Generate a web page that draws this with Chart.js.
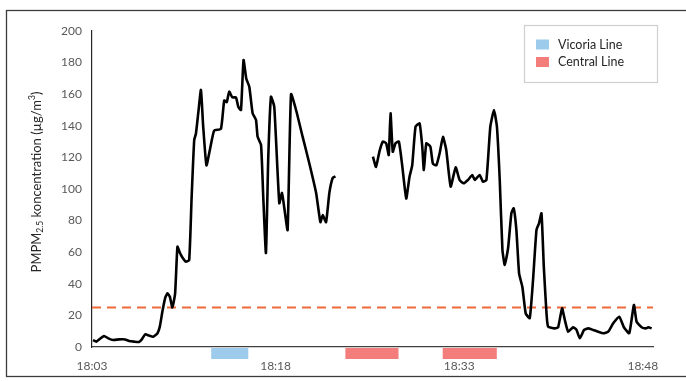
<!DOCTYPE html>
<html>
<head>
<meta charset="utf-8">
<script src="https://cdn.jsdelivr.net/npm/chart.js@4.4.1/dist/chart.umd.min.js"></script>
<style>
  html, body { margin: 0; padding: 0; background: #ffffff; }
  #wrap { width: 686px; height: 381px; }
</style>
</head>
<body>
<div id="wrap"><canvas id="c" width="686" height="381"></canvas></div>
<script>
// Minutes after 18:03 and PM2.5 readings (µg/m³); null marks the missing stretch.
const minutes = [
  0.08, 0.35, 0.71, 0.98, 1.33, 1.72, 2.21, 2.70, 3.03, 3.44, 3.85, 4.07, 4.34, 4.66, 4.99,
  5.34, 5.54, 5.75, 5.97, 6.16, 6.36, 6.57, 6.79, 6.98, 7.16, 7.36, 7.67, 7.94, 8.14, 8.35,
  8.49, 8.68, 8.90, 9.08, 9.35, 9.66, 9.98, 10.53, 10.80, 11.01, 11.21, 11.46, 11.76, 11.95,
  12.17, 12.38, 12.60, 12.85, 13.12, 13.40, 13.53, 13.81, 13.99, 14.21, 14.40, 14.62, 14.89,
  15.30, 15.52, 15.71, 15.98, 16.26, 16.67, 17.21, 17.76, 18.31, 18.66, 18.85, 19.12, 19.39,
  19.66, 19.89,
  21.40,
  22.95, 23.20, 23.49, 23.76, 24.03, 24.24, 24.39, 24.57, 24.80, 25.07, 25.34, 25.67, 25.94,
  26.16, 26.43, 26.76, 26.98, 27.11, 27.31, 27.64, 27.85, 28.13, 28.40, 28.67, 28.94, 29.30,
  29.71, 30.03, 30.36, 30.71, 31.07, 31.26, 31.67, 31.94, 32.22, 32.54, 32.84, 33.08, 33.31,
  33.53, 33.72, 33.99, 34.26, 34.45, 34.67, 34.89, 35.16, 35.43, 35.76, 36.03, 36.31, 36.52,
  36.72, 36.91, 37.13, 37.26, 37.81, 38.08, 38.40, 38.63, 38.90, 39.30, 39.58, 39.85, 40.20,
  40.53, 40.94, 41.35, 41.76, 42.17, 42.58, 43.07, 43.45, 43.89, 44.27, 44.49, 44.90, 45.25,
  45.44, 45.72
];
const pm25 = [
  4.4, 3.4, 5.5, 7.0, 5.5, 4.4, 4.8, 4.8, 3.8, 3.4, 3.2, 4.8, 8.0, 7.2, 6.5,
  8.6, 12.9, 22.4, 30.8, 34.0, 31.8, 25.0, 34.0, 63.5, 60, 57, 54, 55, 95, 131,
  135, 148, 162.7, 140, 115, 126, 137, 138, 156, 155, 161.6, 158, 158, 152,
  150, 181.6, 170, 164.7, 148, 143.7, 133, 127.8, 95, 59.5, 120, 158.4, 152,
  91, 97.5, 88, 74, 160, 150, 133, 116, 97.5, 79, 83.5, 79, 97.5,
  107, 108,
  null,
  120.5, 114, 124, 130, 129, 121.5, 147.9, 123.6, 129, 130, 115, 94, 107.8,
  115, 139.4, 141.5, 126.8, 112, 128.9, 126.8, 116, 115, 122.6, 133, 124.7, 101.5,
  113.7, 105.7, 103.6, 105.7, 108.9, 105.7, 108.9, 104.6, 105.7, 139.4, 150, 139.4, 105.7,
  61.4, 51.9, 62.5, 84.6, 87.8, 74, 46.6, 38, 21.3, 18.2, 42.4, 74, 78.3,
  84.6, 50.8, 21.3, 12.9, 11.8, 12.5, 24.5, 17, 9.7, 12.5, 10.8, 5.5, 10.8,
  11.8, 10.8, 9.7, 8.7, 9.7, 15, 19.2, 12.5, 8.7, 26.6, 16, 12.5, 11.8,
  12.5, 11.8
];

// Guideline level (µg/m³)
const guideline = 25;

// Underground legs, as [start, end] minutes after 18:03
const victoriaLine = [[9.74, 12.77]];
const centralLine = [[20.70, 25.04], [28.65, 33.07]];

// Axis ticks
const tickMinutes = [0, 15, 30, 45];
const tickLabels = ['18:03', '18:18', '18:33', '18:48'];
const yTicks = [0, 20, 40, 60, 80, 100, 120, 140, 160, 180, 200];
const xEnd = 45.83;

const legendLabels = ['Vicoria Line', 'Central Line'];

const BLUE = '#9dcbec';
const RED = '#f27d7a';
const BAR_LEVEL = -4.1;

function legPoints(intervals) {
  const pts = [];
  intervals.forEach((iv, i) => {
    if (i > 0) pts.push({ x: (intervals[i - 1][1] + iv[0]) / 2, y: null });
    pts.push({ x: iv[0], y: BAR_LEVEL }, { x: iv[1], y: BAR_LEVEL });
  });
  return pts;
}

const series = minutes.map((m, i) => ({ x: m, y: pm25[i] }));

const frame = {
  id: 'frame',
  beforeDraw(chart) {
    const ctx = chart.ctx;
    ctx.save();
    ctx.fillStyle = '#ffffff';
    ctx.fillRect(0, 0, chart.width, chart.height);
    ctx.strokeStyle = '#3c3c3c';
    ctx.lineWidth = 1.3;
    ctx.strokeRect(6.5, 10.5, 700, 366);
    ctx.restore();
  }
};

const yTitle = {
  id: 'yTitle',
  afterDraw(chart) {
    const ctx = chart.ctx;
    const fam = 'Lato, "Open Sans", sans-serif';
    const parts = [
      ['PMPM', 13, 0], ['2.5', 8.5, 3.5], [' koncentration (µg/m', 13, 0], ['3', 8.5, -4.5], [')', 13, 0]
    ];
    ctx.save();
    let total = 0;
    parts.forEach(p => { ctx.font = p[1] + 'px ' + fam; p.push(ctx.measureText(p[0]).width); total += p[3]; });
    ctx.translate(37, chart.chartArea.top + 151);
    ctx.rotate(-Math.PI / 2);
    ctx.fillStyle = '#262626';
    ctx.textBaseline = 'middle';
    let x = -total / 2;
    parts.forEach(p => {
      ctx.font = p[1] + 'px ' + fam;
      ctx.fillText(p[0], x, p[2]);
      x += p[3];
    });
    ctx.restore();
  }
};

const boxLegend = {
  id: 'boxLegend',
  afterDraw(chart) {
    const ctx = chart.ctx;
    const colors = [chart.data.datasets[2].borderColor, chart.data.datasets[3].borderColor];
    ctx.save();
    ctx.strokeStyle = '#cfcfcf';
    ctx.lineWidth = 1.2;
    ctx.strokeRect(524.5, 25.5, 133, 57);
    ctx.font = '12.5px Lato, "Open Sans", sans-serif';
    ctx.textBaseline = 'middle';
    ctx.fillStyle = '#262626';
    legendLabels.forEach((lab, i) => {
      const cy = 44.5 + i * 17.5;
      ctx.fillStyle = colors[i];
      ctx.fillRect(536, cy - 5, 13, 10);
      ctx.fillStyle = '#262626';
      ctx.fillText(lab, 558, cy);
    });
    ctx.restore();
  }
};

new Chart(document.getElementById('c'), {
  type: 'line',
  data: {
    datasets: [
      {
        label: 'PM2.5',
        data: series,
        borderColor: '#000000',
        borderWidth: 2.6,
        pointRadius: 0,
        tension: 0.15,
        spanGaps: false,
        order: 1
      },
      {
        label: 'Guideline',
        data: [{ x: 0, y: guideline }, { x: xEnd, y: guideline }],
        borderColor: '#ee6a3a',
        borderWidth: 2,
        borderDash: [9, 6],
        pointRadius: 0,
        order: 2
      },
      {
        label: legendLabels[0],
        data: legPoints(victoriaLine),
        borderColor: BLUE,
        borderWidth: 11,
        borderCapStyle: 'butt',
        pointRadius: 0,
        spanGaps: false,
        clip: false
      },
      {
        label: legendLabels[1],
        data: legPoints(centralLine),
        borderColor: RED,
        borderWidth: 11,
        borderCapStyle: 'butt',
        pointRadius: 0,
        spanGaps: false,
        clip: false
      }
    ]
  },
  options: {
    responsive: false,
    animation: false,
    layout: { padding: { top: 31, right: 33, left: 0, bottom: 0 } },
    plugins: {
      legend: { display: false },
      tooltip: { enabled: false }
    },
    scales: {
      x: {
        type: 'linear',
        min: 0,
        max: xEnd,
        afterBuildTicks(scale) { scale.ticks = tickMinutes.map(v => ({ value: v })); },
        afterFit(scale) { scale.height = 34; },
        grid: { display: false, drawTicks: false },
        border: { display: true, color: '#404040', width: 1.3 },
        ticks: {
          padding: 12,
          maxRotation: 0,
          autoSkip: false,
          color: '#595959',
          font: { family: 'Lato, "Open Sans", sans-serif', size: 12 },
          callback(v) { const i = tickMinutes.indexOf(v); return i >= 0 ? tickLabels[i] : ''; }
        }
      },
      y: {
        min: 0,
        max: 200,
        afterBuildTicks(scale) { scale.ticks = yTicks.map(v => ({ value: v })); },
        afterFit(scale) { scale.width = 92; },
        grid: { display: false, drawTicks: false },
        border: { display: true, color: '#262626', width: 1.2 },
        ticks: {
          padding: 10,
          color: '#595959',
          font: { family: 'Lato, "Open Sans", sans-serif', size: 12 }
        }
      }
    }
  },
  plugins: [frame, yTitle, boxLegend]
});
</script>
</body>
</html>
